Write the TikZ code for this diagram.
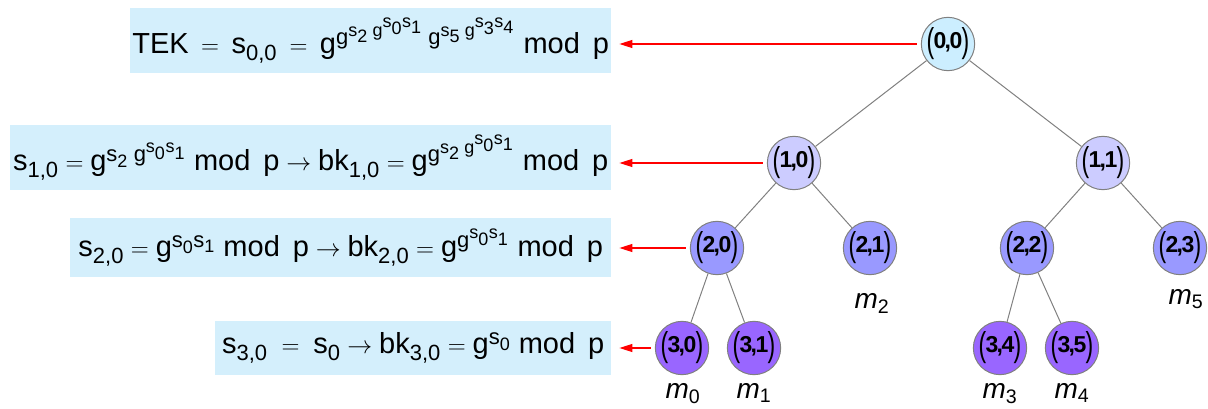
\documentclass[tikz,border=0pt]{standalone}
\usepackage{amsmath}
\usepackage{graphicx}
\usepackage{fontspec}
\setmainfont{Liberation Sans}
\usetikzlibrary{arrows.meta}
\DeclareMathSizes{29}{29}{22}{18}
\definecolor{boxblue}{RGB}{212,239,252}
\definecolor{treegray}{RGB}{128,128,128}
\definecolor{lvA}{RGB}{204,238,255}
\definecolor{lvB}{RGB}{204,204,255}
\definecolor{lvC}{RGB}{153,153,255}
\definecolor{lvD}{RGB}{153,102,255}
\newcommand\sv[1]{\text{s}_{\text{#1}}}
\newcommand\tg{\text{g}}
\newcommand\modp{\ \text{mod\, p}}
\newcommand\bigpar[1]{\raisebox{-0.2em}{\scalebox{1}[1.5]{#1}}}
\newcommand\lbl[2]{\bigpar{(}\kern-0.03em\textbf{#1\kern-0.08em,\kern-0.06em#2}\kern-0.03em\bigpar{)}}
\newcommand\mlab[1]{{\itshape m}$_{\text{\upshape #1}}$}
\begin{document}
\begin{tikzpicture}[x=1pt,y=-1pt,
  tnode/.style={circle, draw=treegray, line width=1pt, minimum size=53pt, inner sep=0pt, font=\fontsize{23}{24}\selectfont},
  lvzero/.style={tnode, fill=lvA},
  lvone/.style={tnode, fill=lvB},
  lvtwo/.style={tnode, fill=lvC},
  lvthree/.style={tnode, fill=lvD},
  treeline/.style={draw=treegray, line width=1pt},
  infobox/.style={fill=boxblue, inner sep=0pt, anchor=north west, font=\fontsize{29}{31}\selectfont},
  redarrow/.style={draw=red, line width=1.2pt, -{Triangle[length=13pt,width=8pt]}, shorten <=4pt, shorten >=8pt},
  mlabel/.style={font=\fontsize{28}{30}\selectfont, anchor=base, inner sep=0pt}
]
\useasboundingbox (0,0) rectangle (1208,409);

% info boxes
\node[infobox, minimum width=481pt, minimum height=65pt] (b0) at (130,8)
  {$\text{TEK} \:=\: \sv{0,0} \:=\: \tg^{\tg^{\sv{2}\;\tg^{\sv{0}\sv{1}}}\;\tg^{\sv{5}\;\tg^{\sv{3}\sv{4}}}}\modp$};
\node[infobox, minimum width=601pt, minimum height=65pt] (b1) at (10,125)
  {$\sv{1,0} = \tg^{\sv{2}\;\tg^{\sv{0}\sv{1}}}\modp \rightarrow \text{bk}_{\text{1,0}} = \tg^{\tg^{\sv{2}\;\tg^{\sv{0}\sv{1}}}}\modp$};
\node[infobox, minimum width=541pt, minimum height=59pt] (b2) at (70,218)
  {$\sv{2,0} = \tg^{\sv{0}\sv{1}}\modp \rightarrow \text{bk}_{\text{2,0}} = \tg^{\tg^{\sv{0}\sv{1}}}\modp$};
\node[infobox, minimum width=396pt, minimum height=54pt] (b3) at (215,321)
  {$\sv{3,0} \;=\; \sv{0} \rightarrow \text{bk}_{\text{3,0}} = \tg^{\sv{0}}\modp$};

% tree nodes
\node[lvzero] (n00) at (948,44) {\lbl{0}{0}};
\node[lvone] (n10) at (794,163) {\lbl{1}{0}};
\node[lvone] (n11) at (1103,163) {\lbl{1}{1}};
\node[lvtwo] (n20) at (717,248) {\lbl{2}{0}};
\node[lvtwo] (n21) at (870,248) {\lbl{2}{1}};
\node[lvtwo] (n22) at (1027,248) {\lbl{2}{2}};
\node[lvtwo] (n23) at (1180,248) {\lbl{2}{3}};
\node[lvthree] (n30) at (682,348) {\lbl{3}{0}};
\node[lvthree] (n31) at (754,348) {\lbl{3}{1}};
\node[lvthree] (n34) at (1000,348) {\lbl{3}{4}};
\node[lvthree] (n35) at (1072,348) {\lbl{3}{5}};

% tree edges
\draw[treeline] (n00) -- (n10);
\draw[treeline] (n00) -- (n11);
\draw[treeline] (n10) -- (n20);
\draw[treeline] (n10) -- (n21);
\draw[treeline] (n11) -- (n22);
\draw[treeline] (n11) -- (n23);
\draw[treeline] (n20) -- (n30);
\draw[treeline] (n20) -- (n31);
\draw[treeline] (n22) -- (n34);
\draw[treeline] (n22) -- (n35);

% red arrows
\draw[redarrow] (n00.west) -- (b0.east |- n00.west);
\draw[redarrow] (n10.west) -- (b1.east |- n10.west);
\draw[redarrow] (n20.west) -- (b2.east |- n20.west);
\draw[redarrow] (n30.west) -- (b3.east |- n30.west);

% message labels
\node[mlabel] (m0) at (683,398) {\mlab{0}};
\node[mlabel] (m1) at (754,398) {\mlab{1}};
\node[mlabel] (m2) at (872,308) {\mlab{2}};
\node[mlabel] (m3) at (1000,398) {\mlab{3}};
\node[mlabel] (m4) at (1072,398) {\mlab{4}};
\node[mlabel] (m5) at (1186,304) {\mlab{5}};
\end{tikzpicture}
\end{document}
